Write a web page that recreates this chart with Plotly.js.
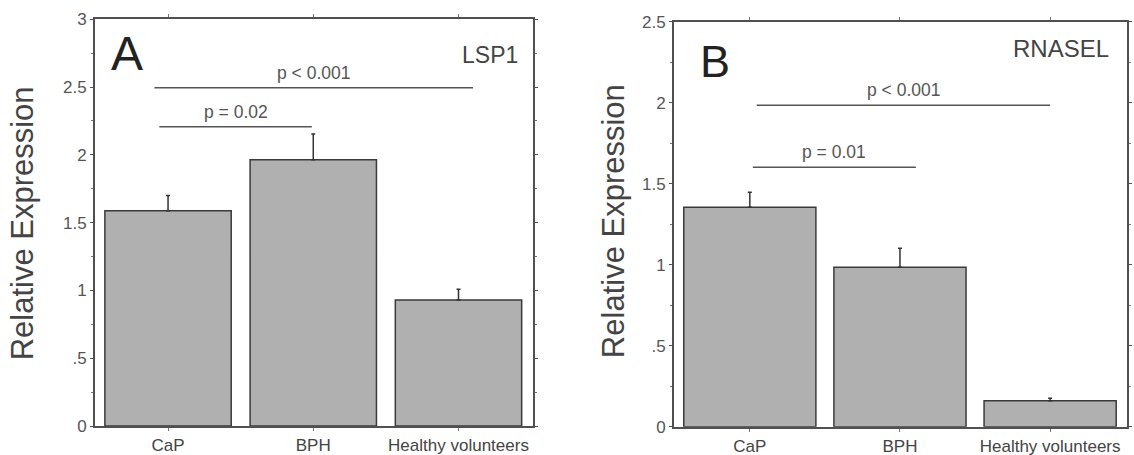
<!DOCTYPE html>
<html>
<head>
<meta charset="utf-8">
<script src="https://cdn.plot.ly/plotly-3.0.1.min.js"></script>
<style>html,body{margin:0;padding:0;background:#fff;}#chart{width:1134px;height:455px;}</style>
</head>
<body>
<div id="chart"></div>
<script>
// ---- data ----
const categories = ["CaP", "BPH", "Healthy volunteers"];
const lspValues = [1.588, 1.964, 0.929];
const lspErrors = [0.112, 0.189, 0.079];
const rnaselValues = [1.354, 0.984, 0.16];
const rnaselErrors = [0.093, 0.117, 0.015];

const lspTickVals = [0, 0.5, 1, 1.5, 2, 2.5, 3];
const lspTickText = ["0", ".5", "1", "1.5", "2", "2.5", "3"];
const rnaselTickVals = [0, 0.5, 1, 1.5, 2, 2.5];
const rnaselTickText = ["0", ".5", "1", "1.5", "2", "2.5"];

// significance brackets (category index units / value units)
const lspBracketStart = [-0.094, -0.06];
const lspBracketEnd = [2.1, 0.99];
const lspBracketLevel = [2.495, 2.207];
const lspBracketLabel = ["p < 0.001", "p = 0.02"];
const rnaselBracketStart = [0.046, 0.02];
const rnaselBracketEnd = [2.0, 1.106];
const rnaselBracketLevel = [1.984, 1.601];
const rnaselBracketLabel = ["p < 0.001", "p = 0.01"];

// ---- styling ----
const FONT = "Liberation Sans, Arial, sans-serif";
const barFill = "#b0b0b0";
const barLine = "#3a3a3a";
const axisCol = "#505050";
const textCol = "#444444";

function barTrace(vals, errs, xa, ya, w) {
  return {
    type: "bar", x: categories, y: vals, xaxis: xa, yaxis: ya,
    width: w,
    marker: {color: barFill, line: {color: barLine, width: 1.5}},
    error_y: {type: "data", symmetric: false, array: errs, arrayminus: errs.map(() => 0),
              color: "#333", thickness: 1.5, width: 2},
    hoverinfo: "none", showlegend: false
  };
}

const traces = [
  barTrace(lspValues, lspErrors, "x", "y", 0.87),
  barTrace(rnaselValues, rnaselErrors, "x2", "y2", 0.88)
];

const shapes = [];
const annotations = [];
function addBrackets(starts, ends, levels, labels, xr, yr) {
  for (let i = 0; i < starts.length; i++) {
    shapes.push({type: "line", xref: xr, yref: yr, x0: starts[i], x1: ends[i], y0: levels[i], y1: levels[i],
                 line: {color: "#555", width: 1.5}});
    annotations.push({xref: xr, yref: yr, x: (starts[i] + ends[i]) / 2, y: levels[i], text: labels[i],
                      showarrow: false, yanchor: "bottom", yshift: 3,
                      font: {family: FONT, size: 17.5, color: "#555"}});
  }
}
addBrackets(lspBracketStart, lspBracketEnd, lspBracketLevel, lspBracketLabel, "x", "y");
addBrackets(rnaselBracketStart, rnaselBracketEnd, rnaselBracketLevel, rnaselBracketLabel, "x2", "y2");

annotations.push(
  {xref: "x domain", yref: "y domain", x: 0.074, y: 0.915, text: "A", showarrow: false,
   xanchor: "center", yanchor: "middle", font: {family: FONT, size: 48, color: "#222"}},
  {xref: "x domain", yref: "y domain", x: 0.902, y: 0.911, text: "LSP1", showarrow: false,
   xanchor: "center", yanchor: "middle", font: {family: FONT, size: 23, color: "#444"}},
  {xref: "x2 domain", yref: "y2 domain", x: 0.0906, y: 0.901, text: "B", showarrow: false,
   xanchor: "center", yanchor: "middle", font: {family: FONT, size: 45, color: "#222"}},
  {xref: "x2 domain", yref: "y2 domain", x: 0.854, y: 0.935, text: "RNASEL", showarrow: false,
   xanchor: "center", yanchor: "middle", font: {family: FONT, size: 24, color: "#444"}},
  {xref: "paper", yref: "paper", x: 22.5 / 1134, y: 0.508, text: "Relative Expression", showarrow: false,
   textangle: -90, xanchor: "center", yanchor: "middle", font: {family: FONT, size: 31, color: textCol}},
  {xref: "paper", yref: "paper", x: 613 / 1134, y: 0.514, text: "Relative Expression", showarrow: false,
   textangle: -90, xanchor: "center", yanchor: "middle", font: {family: FONT, size: 31, color: textCol}}
);

function xAxis(domain, anchor, range) {
  return {domain: domain, anchor: anchor, type: "category", range: range,
          showline: true, linecolor: axisCol, linewidth: 2, mirror: "ticks",
          ticks: "outside", ticklen: 3, tickcolor: "#777", tickwidth: 1,
          ticklabelstandoff: 0,
          showgrid: false, zeroline: false, fixedrange: true,
          tickfont: {family: FONT, size: 17, color: textCol}};
}
function yAxis(domain, anchor, range, vals, text) {
  return {domain: domain, anchor: anchor, range: range,
          tickmode: "array", tickvals: vals, ticktext: text,
          showline: true, linecolor: axisCol, linewidth: 2, mirror: "ticks",
          ticks: "outside", ticklen: 3, tickcolor: axisCol, tickwidth: 1,
          minor: {dtick: 0.25, ticks: "outside", ticklen: 2, tickcolor: "#777"},
          showgrid: false, zeroline: false, fixedrange: true,
          tickfont: {family: FONT, size: 17, color: "#555"}};
}

const layout = {
  width: 1134, height: 455,
  margin: {l: 0, r: 0, t: 0, b: 0},
  paper_bgcolor: "#fff", plot_bgcolor: "#fff",
  showlegend: false,
  xaxis: xAxis([95 / 1134, 533 / 1134], "y", [-0.503, 2.513]),
  yaxis: yAxis([1 - 426 / 455, 1 - 19.3 / 455], "x", [0, 3], lspTickVals, lspTickText),
  xaxis2: xAxis([674 / 1134, 1126.7 / 1134], "y2", [-0.505, 2.51]),
  yaxis2: yAxis([1 - 426.7 / 455, 1 - 21.7 / 455], "x2", [0, 2.5], rnaselTickVals, rnaselTickText),
  shapes: shapes,
  annotations: annotations
};

Plotly.newPlot("chart", traces, layout, {displayModeBar: false, staticPlot: true});
</script>
</body>
</html>
